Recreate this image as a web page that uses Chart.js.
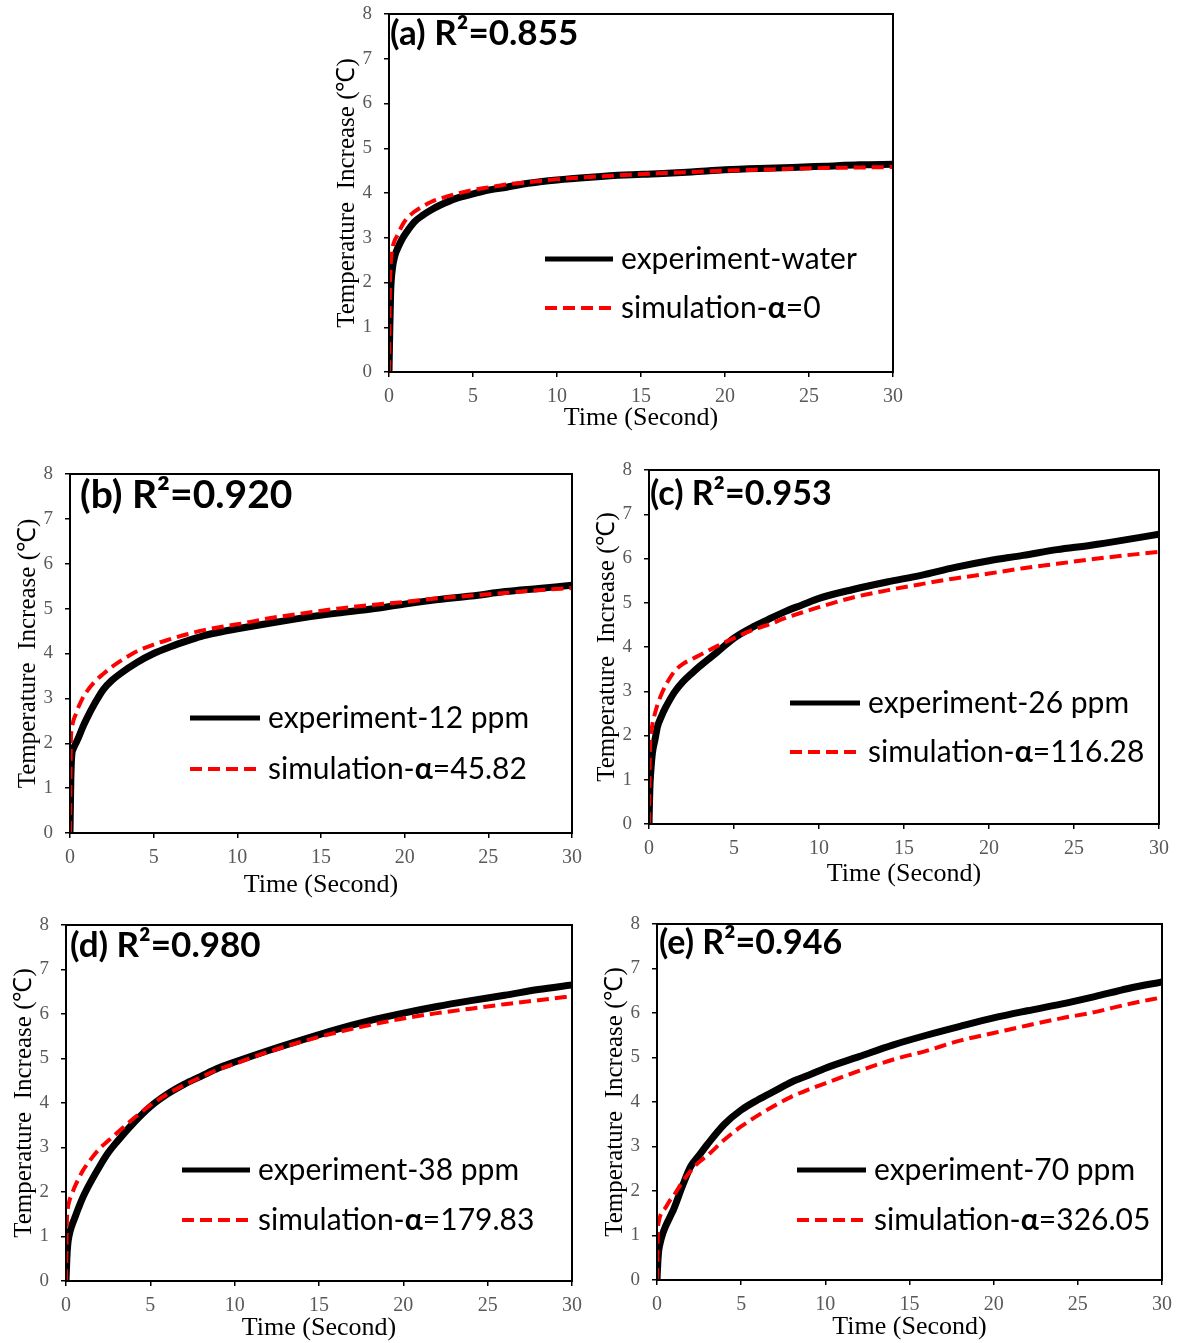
<!DOCTYPE html>
<html><head><meta charset="utf-8">
<script src="https://cdn.jsdelivr.net/npm/chart.js@4.4.0/dist/chart.umd.min.js"></script>
<style>
html,body{margin:0;padding:0;background:#fff;}
body{width:1184px;height:1343px;position:relative;overflow:hidden;}
canvas{position:absolute;}
</style></head><body>
<canvas id="c0"></canvas><canvas id="c1"></canvas><canvas id="c2"></canvas><canvas id="c3"></canvas><canvas id="c4"></canvas>
<script>
// ---------- data ----------
const time = [0,0.05,0.1,0.2,0.35,0.5,0.75,1,1.5,2,2.5,3,4,5,6,7,8,9,10,12,14,16,18,20,22,24,26,28,30];

const expA = [0,1.0,1.8,2.3,2.6,2.75,2.95,3.1,3.35,3.5,3.62,3.72,3.88,3.98,4.07,4.13,4.2,4.25,4.29,4.35,4.4,4.43,4.47,4.52,4.55,4.57,4.6,4.63,4.64];
const simA = [0,1.8,2.4,2.75,2.95,3.05,3.25,3.4,3.58,3.7,3.8,3.87,3.98,4.07,4.13,4.19,4.23,4.27,4.31,4.36,4.4,4.44,4.47,4.5,4.52,4.54,4.56,4.57,4.58];

const expB = [0,1.2,1.7,1.88,2.0,2.12,2.35,2.55,2.9,3.2,3.4,3.55,3.8,4.0,4.15,4.28,4.4,4.48,4.55,4.68,4.8,4.9,4.99,5.1,5.2,5.28,5.38,5.45,5.52];
const simB = [0,2.0,2.3,2.5,2.65,2.8,3.0,3.15,3.38,3.55,3.7,3.83,4.05,4.2,4.32,4.43,4.52,4.59,4.65,4.79,4.9,5.0,5.08,5.15,5.23,5.29,5.35,5.41,5.46];

const expC = [0,0.8,1.15,1.6,1.9,2.2,2.45,2.65,2.98,3.22,3.4,3.57,3.88,4.2,4.43,4.62,4.8,4.95,5.1,5.3,5.47,5.62,5.8,5.95,6.07,6.2,6.3,6.42,6.55];
const simC = [0,1.6,1.95,2.25,2.5,2.7,2.95,3.15,3.45,3.62,3.72,3.82,4.02,4.2,4.37,4.5,4.65,4.78,4.9,5.12,5.28,5.42,5.55,5.66,5.78,5.88,5.98,6.07,6.15];

const expD = [0,0.5,0.8,1.05,1.25,1.4,1.65,1.88,2.25,2.58,2.88,3.12,3.55,3.92,4.2,4.42,4.6,4.78,4.92,5.18,5.42,5.65,5.85,6.02,6.17,6.3,6.42,6.55,6.65];
const simD = [0,1.3,1.6,1.8,1.95,2.1,2.3,2.48,2.75,2.98,3.15,3.32,3.65,3.95,4.2,4.4,4.58,4.75,4.88,5.15,5.38,5.58,5.75,5.9,6.02,6.12,6.22,6.31,6.4];

const expE = [0,0.4,0.65,0.85,1.05,1.2,1.4,1.6,2.1,2.55,2.8,3.05,3.5,3.82,4.05,4.25,4.45,4.6,4.76,5.02,5.28,5.5,5.7,5.89,6.05,6.2,6.37,6.55,6.7];
const simE = [0,1.1,1.3,1.45,1.55,1.62,1.78,1.9,2.2,2.45,2.65,2.8,3.15,3.45,3.7,3.92,4.12,4.28,4.42,4.7,4.95,5.15,5.38,5.55,5.72,5.88,6.02,6.2,6.35];

const xTicks = [0,5,10,15,20,25,30];
const yTicks = [0,1,2,3,4,5,6,7,8];
const panelIds = ['(a)','(b)','(c)','(d)','(e)'];
const r2Values = ['0.855','0.920','0.953','0.980','0.946'];
const expNames = ['experiment-water','experiment-12 ppm','experiment-26 ppm','experiment-38 ppm','experiment-70 ppm'];
const alphaValues = ['0','45.82','116.28','179.83','326.05'];
const xTitle = 'Time (Second)';
const yTitle = 'Temperature  Increase (\u2103)';

const expSeries = [expA,expB,expC,expD,expE];
const simSeries = [simA,simB,simC,simD,simE];

// ---------- layout (page pixel geometry) ----------
const geom = [
  {L:389,T:14,R:893,B:372, xt:46, lab:{x:390,y:34,s:35}, leg:{x1:545,x2:613,y1:259,y2:308}},
  {L:70,T:474,R:572,B:833, xt:52, lab:{x:80,y:495,s:39}, leg:{x1:190,x2:260,y1:718,y2:769}},
  {L:649,T:470,R:1159,B:824, xt:50, lab:{x:650,y:494,s:34}, leg:{x1:790,x2:860,y1:703,y2:752}},
  {L:66,T:925,R:572,B:1281, xt:47, lab:{x:70,y:946,s:35}, leg:{x1:182,x2:250,y1:1170,y2:1220}},
  {L:657,T:924,R:1162,B:1280, xt:47, lab:{x:659,y:943,s:34}, leg:{x1:797,x2:866,y1:1170,y2:1220}}
];
const SERIF = "'Liberation Serif','Times New Roman',serif";
const SANS = "Lato,'Open Sans',sans-serif";
const LEG_SIZE = 30;

function makeChart(i){
  const g = geom[i];
  const padTop = 14, padRight = 24, yW = 57;
  const xH = g.xt + 15.6;
  const w = (g.R-g.L) + yW + padRight;
  const h = (g.B-g.T) + padTop + xH;
  const ox = g.L - yW, oy = g.T - padTop;
  const cv = document.getElementById('c'+i);
  cv.width = w; cv.height = Math.round(h);
  cv.style.left = ox+'px'; cv.style.top = oy+'px';
  cv.style.width = w+'px'; cv.style.height = Math.round(h)+'px';
  const xHr = Math.round(h) - padTop - (g.B-g.T);

  const decor = {
    id:'decor'+i,
    afterDatasetsDraw(chart){
      const ctx = chart.ctx, a = chart.chartArea;
      ctx.save();
      ctx.strokeStyle = '#000'; ctx.lineWidth = 2;
      ctx.strokeRect(a.left, a.top, a.right-a.left, a.bottom-a.top);
      // panel label
      ctx.fillStyle = '#000';
      ctx.font = 'bold '+g.lab.s+'px '+SANS;
      ctx.textBaseline = 'middle'; ctx.textAlign = 'left';
      ctx.fillText(panelIds[i]+' R\u00b2='+r2Values[i], g.lab.x-ox, g.lab.y-oy);
      // legend
      const lx1 = g.leg.x1-ox, lx2 = g.leg.x2-ox, ly1 = g.leg.y1-oy, ly2 = g.leg.y2-oy;
      ctx.lineWidth = 5; ctx.strokeStyle = '#000'; ctx.setLineDash([]);
      ctx.beginPath(); ctx.moveTo(lx1,ly1); ctx.lineTo(lx2,ly1); ctx.stroke();
      ctx.lineWidth = 4; ctx.strokeStyle = '#ff0000'; ctx.setLineDash([12,6]);
      ctx.beginPath(); ctx.moveTo(lx1,ly2); ctx.lineTo(lx2,ly2); ctx.stroke();
      ctx.setLineDash([]);
      ctx.font = LEG_SIZE+'px '+SANS;
      ctx.fillText(expNames[i], lx2+8, ly1);
      let tx = lx2+8;
      const s1 = 'simulation-';
      ctx.fillText(s1, tx, ly2); tx += ctx.measureText(s1).width;
      ctx.font = 'bold '+LEG_SIZE+'px '+SANS;
      ctx.fillText('\u03b1', tx, ly2); tx += ctx.measureText('\u03b1').width;
      ctx.font = LEG_SIZE+'px '+SANS;
      ctx.fillText('='+alphaValues[i], tx, ly2);
      ctx.restore();
    }
  };

  new Chart(cv, {
    type:'line',
    data:{datasets:[
      {label:expNames[i], data: time.map((t,k)=>({x:t,y:expSeries[i][k]})), borderColor:'#000', borderWidth:7,
       pointRadius:0, cubicInterpolationMode:'monotone', order:2, fill:false},
      {label:'simulation', data: time.map((t,k)=>({x:t,y:simSeries[i][k]})), borderColor:'#ff0000', borderWidth:4,
       borderDash:[12,6], pointRadius:0, cubicInterpolationMode:'monotone', order:1, fill:false}
    ]},
    options:{
      responsive:false, animation:false, devicePixelRatio:1,
      layout:{padding:{top:padTop,right:padRight,left:0,bottom:0}, autoPadding:false},
      plugins:{legend:{display:false}, tooltip:{enabled:false}},
      scales:{
        x:{type:'linear', min:0, max:30,
           afterBuildTicks:s=>{s.ticks = xTicks.map(v=>({value:v}));},
           afterFit:s=>{s.height = xHr; s.paddingLeft = 0; s.paddingRight = 0; s.paddingTop = 0; s.paddingBottom = 0;},
           grid:{drawOnChartArea:false, drawTicks:true, tickLength:5, color:'#000', lineWidth:1.5},
           border:{display:false},
           ticks:{padding:8, color:'#595959', font:{family:SERIF,size:20}, maxRotation:0},
           title:{display:true, text:xTitle, color:'#000', font:{family:SERIF,size:26}, padding:0}},
        y:{type:'linear', min:0, max:8,
           afterBuildTicks:s=>{s.ticks = yTicks.map(v=>({value:v}));},
           afterFit:s=>{s.width = yW; s.paddingLeft = 0; s.paddingRight = 0; s.paddingTop = 0; s.paddingBottom = 0;},
           grid:{drawOnChartArea:false, drawTicks:true, tickLength:5, color:'#000', lineWidth:1.5},
           border:{display:false},
           ticks:{padding:12, color:'#595959', font:{family:SERIF,size:19}},
           title:{display:true, text:yTitle, color:'#000', font:{family:SERIF,size:25}, padding:0}}
      }
    },
    plugins:[decor]
  });
}
for (let i=0;i<5;i++) makeChart(i);
</script>
</body></html>
